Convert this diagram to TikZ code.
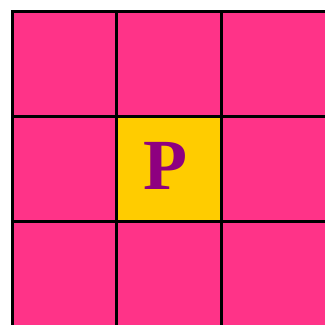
\documentclass[tikz,border=0pt]{standalone}
\usepackage{fontspec}
\newfontfamily\pfont{Liberation Serif}
\definecolor{cellpink}{HTML}{FF3388}
\definecolor{cellyellow}{HTML}{FFCC00}
\definecolor{letterpurple}{HTML}{8E0080}
\begin{document}
\begin{tikzpicture}[x=1pt,y=1pt,
  cell/.style={draw=black, line width=3pt, fill=cellpink, minimum width=104.8pt, minimum height=104.8pt, inner sep=0pt, outer sep=0pt},
  centercell/.style={cell, fill=cellyellow},
  letter/.style={font=\pfont\bfseries\fontsize{72}{72}\selectfont, text=letterpurple, inner sep=0pt}]
\useasboundingbox[fill=white] (0,0) rectangle (325,-325);
\begin{scope}
\clip (0,0) rectangle (325,-325);
\foreach \i in {0,1,2}{
  \foreach \j in {0,1,2}{
    \node[cell] (c-\i-\j) at ({12.2+104.8*(\i+0.5)},{-11.8-104.8*(\j+0.5)}) {};
  }
}
\node[centercell] (mid) at (c-1-1) {};
\node[letter, anchor=center] (p) at ([xshift=-4pt,yshift=3pt]mid.center) {P};
\end{scope}
\end{tikzpicture}
\end{document}
